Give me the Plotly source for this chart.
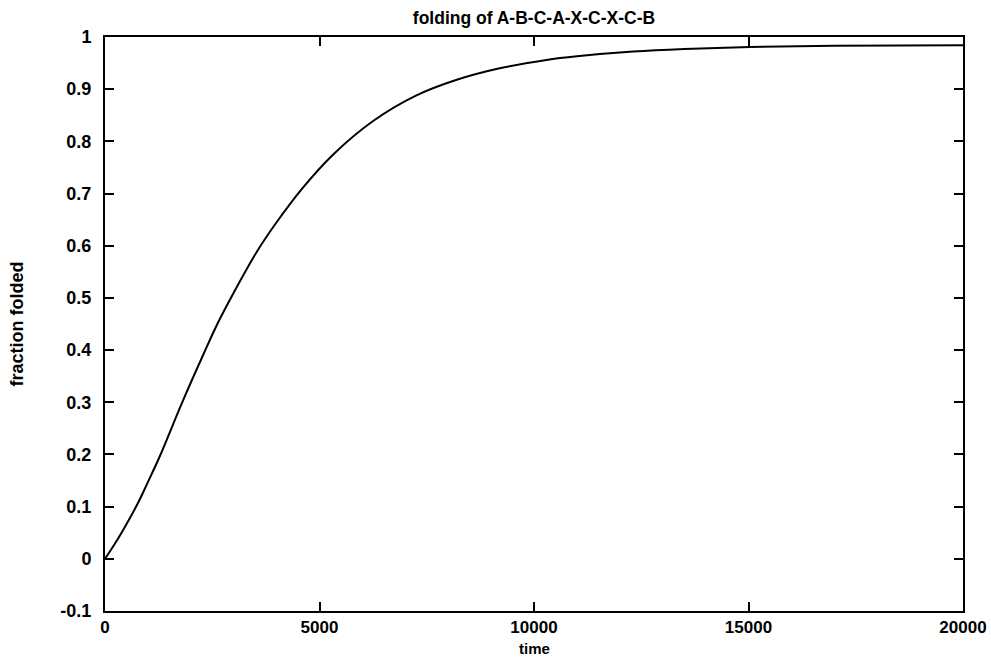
import plotly.graph_objects as go

time = [0, 200, 400, 750, 1000, 1280, 1790, 2300, 2630, 3000, 3550, 4000,
        4600, 5320, 6250, 7260, 8200, 9200, 10290, 11000, 12310, 13500,
        15030, 17000, 20000]
fraction = [0.0, 0.025, 0.052, 0.104, 0.147, 0.197, 0.298, 0.393, 0.452,
            0.51, 0.59, 0.645, 0.71, 0.775, 0.839, 0.888, 0.918, 0.94, 0.956,
            0.963, 0.972, 0.977, 0.981, 0.983, 0.984]

x_ticks = [0, 5000, 10000, 15000, 20000]
y_ticks = [-0.1, 0, 0.1, 0.2, 0.3, 0.4, 0.5, 0.6, 0.7, 0.8, 0.9, 1]

font_family = "Liberation Sans, Arial, sans-serif"

fig = go.Figure()
fig.add_trace(go.Scatter(
    x=time, y=fraction, mode="lines",
    line=dict(color="black", width=2, shape="spline", smoothing=1.0),
    showlegend=False,
))

axis_common = dict(
    showgrid=False, zeroline=False, automargin=False,
    showline=True, linecolor="black", linewidth=2, mirror="ticks",
    ticks="inside", ticklen=9, tickwidth=2, tickcolor="black",
)

fig.update_layout(
    width=991, height=658,
    margin=dict(l=105, r=28, t=37, b=47),
    paper_bgcolor="white", plot_bgcolor="white",
    title=dict(text="folding of A-B-C-A-X-C-X-C-B", x=0.5, xanchor="center",
               y=0.9726, yanchor="middle", xref="paper",
               font=dict(family=font_family, size=17.5, color="black", weight="bold")),
    xaxis=dict(range=[0, 20000], tickvals=x_ticks,
               ticktext=[str(v) for v in x_ticks], ticklabelstandoff=0,
               tickfont=dict(family=font_family, size=17, color="black", weight="bold"),
               **axis_common),
    yaxis=dict(range=[-0.1, 1], tickvals=y_ticks,
               ticktext=[("%g" % v) for v in y_ticks], ticklabelstandoff=8,
               tickfont=dict(family=font_family, size=18, color="black", weight="bold"),
               title=dict(text="fraction folded", standoff=32,
                          font=dict(family=font_family, size=18, color="black", weight="bold")),
               **axis_common),
    annotations=[dict(text="time", xref="paper", yref="paper", x=0.5, y=-0.0645,
                      xanchor="center", yanchor="middle", showarrow=False,
                      font=dict(family=font_family, size=15, color="black", weight="bold"))],
)

fig.write_html("out.html")
